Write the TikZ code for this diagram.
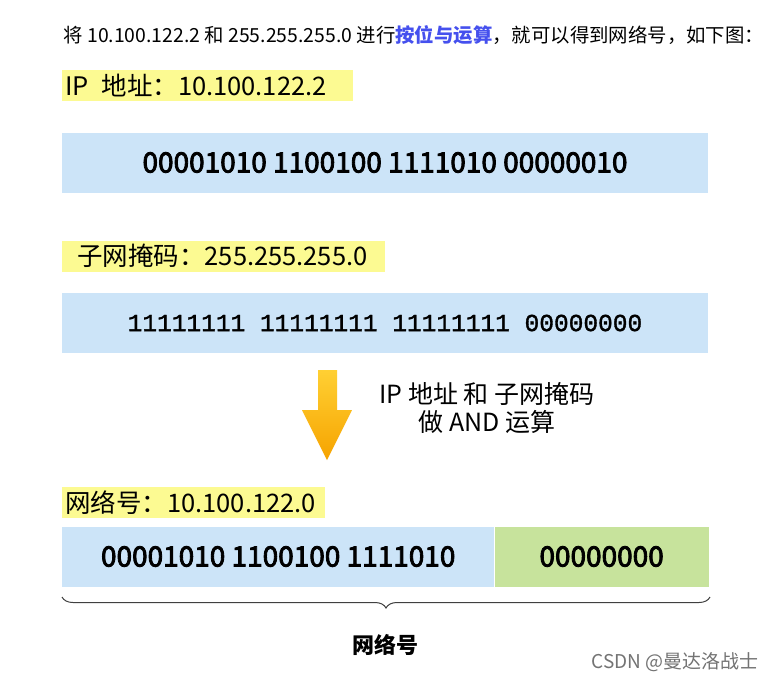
\documentclass[tikz,border=0pt]{standalone}
\usepackage{fontspec}
\setmainfont{Noto Sans CJK SC}
\newfontfamily\medfont[FakeBold=3]{Noto Sans CJK SC}
\newfontfamily\binfont[FakeBold=1.4]{Liberation Mono}
\usetikzlibrary{decorations.pathreplacing}

\tikzset{
    bar/.style={fill=barBlue, minimum height=60pt, inner sep=0pt, font=\fontsize{28}{32}\medfont},
    hilite/.style={fill=hiliteYellow, anchor=west, inner xsep=3pt, inner ysep=0pt, minimum height=31pt, align=left, font=\fontsize{25.5}{28}\selectfont},
}

\begin{document}
\begin{tikzpicture}[x=1pt, y=-1pt]
    \definecolor{barBlue}{HTML}{CCE4F8}
    \definecolor{netGreen}{HTML}{C7E39C}
    \definecolor{hiliteYellow}{HTML}{FCFA92}
    \definecolor{linkBlue}{HTML}{4550EE}
    \definecolor{arrowTop}{HTML}{FFD033}
    \definecolor{arrowBottom}{HTML}{F6A300}

    \useasboundingbox[fill=white] (0,0) rectangle (776,681);

    % Intro line
    \node[anchor=west, font=\fontsize{19.4}{23}\selectfont] (intro) at (60,35)
        {将 10.100.122.2 和 255.255.255.0 进行{\color{linkBlue}\bfseries 按位与运算}，就可以得到网络号，如下图：};

    % IP address
    \node[hilite, text width=285pt] (iplabel) at (62,85.5) {IP\, 地址：10.100.122.2};
    \node[bar, minimum width=646pt] (ipbar) at (385,162.5) {00001010 1100100 1111010 00000010};

    % Subnet mask
    \node[hilite, text width=317pt] (masklabel) at (62,256) {\hspace{12pt}子网掩码：255.255.255.0};
    \node[bar, minimum width=646pt, font=\fontsize{24.5}{28}\binfont] (maskbar) at (385,323) {11111111 11111111 11111111 00000000};

    % AND arrow
    \shade[top color=arrowTop, bottom color=arrowBottom]
        (318,370) -- (337,370) -- (337,410) -- (352,410) -- (327,460) -- (302,410) -- (318,410) -- cycle;
    \node[align=center, font=\fontsize{25}{28}\selectfont] (andtext) at (487,408) {IP 地址 和 子网掩码\\做 AND 运算};

    % Network number
    \node[hilite, text width=257pt] (netlabel) at (62,502.5) {网络号：10.100.122.0};
    \node[bar, minimum width=432pt, anchor=west] (netbar) at (62,556.5) {00001010 1100100 1111010};
    \node[bar, fill=netGreen, minimum width=214pt, anchor=west] (hostbar) at (netbar.east) {00000000};

    % Brace under the result
    \draw[decorate, decoration={brace, mirror, amplitude=11pt}, line width=1pt, black!75]
        (62,597) -- (710,597);
    \node[font=\fontsize{22}{26}\selectfont\bfseries] (netname) at (385,645) {网络号};

    % Watermark
    \node[anchor=east, text=black!55, font=\fontsize{19}{22}\selectfont] (mark) at (762,662) {CSDN @曼达洛战士};

\end{tikzpicture}
\end{document}
